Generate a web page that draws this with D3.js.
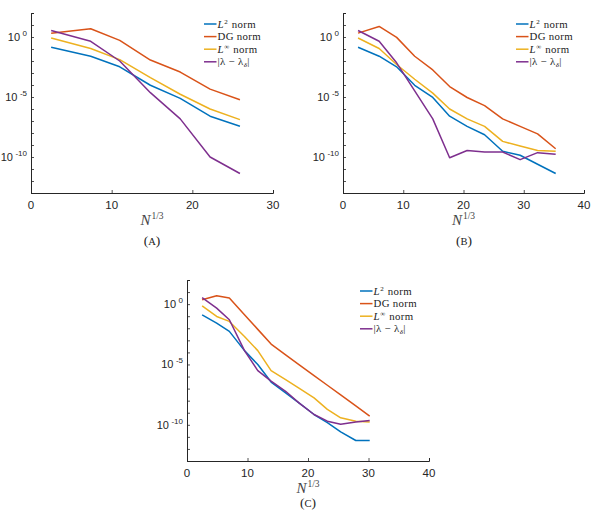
<!DOCTYPE html>
<html><head><meta charset="utf-8">
<script src="https://cdn.jsdelivr.net/npm/d3@7"></script>
<style>body{margin:0;background:#fff}svg{display:block}</style>
</head><body><svg id="c" width="591" height="530"></svg>
<script>
// ---------- data ----------
const seriesColors = ["#0072BD", "#D95319", "#EDB120", "#7E2F8E"];
const xTicksA = [0, 10, 20, 30];
const xTicksBC = [0, 10, 20, 30, 40];
const yLabelExps = [0, -5, -10];
const yDomain = [1e-13, 1e2];
const captions = ["A", "B", "C"];

const xA = [2.5, 7.4, 11.0, 14.8, 18.5, 22.2, 25.9];
const l2A   = [1.4e-1, 2.5e-2, 3.3e-3, 9.5e-5, 7.6e-6, 2.5e-7, 3.6e-8];
const dgA   = [2.1, 4.9, 5.2e-1, 1.2e-2, 1.2e-3, 4.5e-5, 5.9e-6];
const linfA = [8.3e-1, 1.1e-1, 1.3e-2, 4.1e-4, 1.7e-5, 1.0e-6, 1.3e-7];
const lamA  = [3.5, 4.4e-1, 1.0e-2, 2.3e-5, 1.5e-7, 1.0e-10, 4.2e-12];

const xB = [2.5, 6.0, 8.9, 11.9, 14.9, 17.7, 20.6, 23.5, 26.5, 29.4, 32.3, 35.3];
const l2B   = [1.4e-1, 2.5e-2, 3.3e-3, 9.5e-5, 9.1e-6, 2.5e-7, 3.6e-8, 7.1e-9, 3.0e-10, 1.4e-10, 2.5e-11, 4.2e-12];
const dgB   = [2.1, 7.6, 9.3e-1, 2.5e-2, 1.8e-3, 7.4e-5, 9.1e-6, 1.9e-6, 1.5e-7, 3.6e-8, 8.5e-9, 4.9e-10];
const linfB = [8.3e-1, 1.1e-1, 5.1e-3, 3.0e-4, 2.1e-5, 1.0e-6, 1.5e-7, 3.6e-8, 2.0e-9, 8.1e-10, 3.5e-10, 3.0e-10];
const lamB  = [3.5, 4.4e-1, 7.1e-3, 3.2e-5, 1.5e-7, 8.7e-11, 3.5e-10, 2.6e-10, 2.6e-10, 6.0e-11, 2.3e-10, 1.7e-10];

const xC = [2.5, 4.9, 7.0, 9.5, 11.7, 13.9, 16.3, 18.5, 21.0, 23.2, 25.4, 27.9, 30.2];
const l2C   = [1.3e-1, 2.7e-2, 5.5e-3, 1.4e-4, 9.8e-6, 3.5e-7, 4.4e-8, 6.6e-9, 7.1e-10, 1.5e-10, 2.6e-11, 5.0e-12, 5.0e-12];
const dgC   = [2.3, 4.9, 3.2, 1.3e-1, 8.1e-3, 4.9e-4, 6.2e-5, 9.8e-6, 1.2e-6, 1.9e-7, 3.0e-8, 3.7e-9, 5.2e-10];
const linfC = [7.2e-1, 9.5e-2, 3.7e-2, 2.1e-3, 1.4e-4, 3.1e-6, 5.6e-7, 1.1e-7, 1.7e-8, 1.9e-9, 3.8e-10, 2.0e-10, 1.7e-10];
const lamC  = [3.5, 4.7e-1, 5.1e-2, 1.4e-4, 3.1e-6, 4.1e-7, 6.0e-8, 6.6e-9, 7.1e-10, 2.0e-10, 1.1e-10, 1.7e-10, 2.3e-10];

// ---------- layout ----------
const panels = [
  {x: xA, ys: [l2A, dgA, linfA, lamA], xMax: 30, ticks: xTicksA, left: 31, top: 13, w: 242, h: 180, capX: 152, capY: 245},
  {x: xB, ys: [l2B, dgB, linfB, lamB], xMax: 40, ticks: xTicksBC, left: 343, top: 13, w: 241, h: 180, capX: 464, capY: 245},
  {x: xC, ys: [l2C, dgC, linfC, lamC], xMax: 40, ticks: xTicksBC, left: 187, top: 280, w: 242, h: 181, capX: 308, capY: 507}
];

const svg = d3.select("#c");
const axisColor = "#262626";
const sansFont = "'Liberation Sans', Arial, sans-serif";
const serifFont = "'Liberation Serif', 'Times New Roman', serif";

panels.forEach((p, pi) => {
  const g = svg.append("g").attr("transform", `translate(${p.left},${p.top})`);
  const x = d3.scaleLinear().domain([0, p.xMax]).range([0, p.w]);
  const y = d3.scaleLog().domain(yDomain).range([p.h, 0]);

  // axes
  const decades = d3.range(-13, 3).map(e => Math.pow(10, e));
  const gy = g.append("g").call(d3.axisLeft(y).tickValues(decades).tickSize(-3).tickFormat(""));
  const gx = g.append("g").attr("transform", `translate(0,${p.h})`)
    .call(d3.axisBottom(x).tickValues(p.ticks).tickSize(-3).tickFormat(""));
  [gx, gy].forEach(a => {
    a.selectAll("path").attr("stroke", axisColor).attr("stroke-width", 1);
    a.selectAll("line").attr("stroke", axisColor).attr("stroke-width", 0.8);
  });

  // y tick labels
  yLabelExps.forEach(e => {
    const t = g.append("text")
      .attr("x", -4).attr("y", y(Math.pow(10, e)) + 4)
      .attr("text-anchor", "end")
      .attr("font-family", sansFont).attr("font-size", 11).attr("fill", axisColor);
    t.append("tspan").text("10");
    t.append("tspan").attr("dx", 2.5).attr("dy", -5).attr("font-size", 8).text(String(e));
  });

  // x tick labels
  p.ticks.forEach(v => {
    g.append("text").attr("x", x(v)).attr("y", p.h + 16)
      .attr("text-anchor", "middle")
      .attr("font-family", sansFont).attr("font-size", 11.5).attr("fill", axisColor)
      .text(v);
  });

  // x axis label N^{1/3}
  const xl = g.append("text").attr("x", p.w / 2).attr("y", p.h + 32)
    .attr("text-anchor", "middle")
    .attr("font-family", serifFont).attr("font-size", 15).attr("fill", "#444");
  xl.append("tspan").attr("font-style", "italic").text("N");
  xl.append("tspan").attr("dx", 1).attr("dy", -6).attr("font-size", 9.5).text("1/3");

  // lines
  const line = d3.line().x(d => x(d[0])).y(d => y(d[1]));
  p.ys.forEach((vals, si) => {
    g.append("path")
      .datum(p.x.map((xv, i) => [xv, vals[i]]))
      .attr("fill", "none").attr("stroke", seriesColors[si])
      .attr("stroke-width", 1.5).attr("stroke-linejoin", "round")
      .attr("d", line);
  });

  // legend
  const lx = 173, ly0 = 11, dyRow = 12.6;
  const lg = g.append("g").attr("font-family", serifFont).attr("font-size", 10.8)
    .attr("letter-spacing", 0.35).attr("fill", "#222");
  seriesColors.forEach((c, si) => {
    const yy = ly0 + si * dyRow;
    lg.append("line").attr("x1", lx).attr("x2", lx + 12.5).attr("y1", yy).attr("y2", yy)
      .attr("stroke", c).attr("stroke-width", 1.5);
    const t = lg.append("text").attr("x", lx + 13.5).attr("y", yy + 3.6);
    if (si === 0 || si === 2) {
      t.append("tspan").attr("font-style", "italic").text("L");
      t.append("tspan").attr("dy", -4).attr("dx", 0.5).attr("font-size", 7).text(si === 0 ? "2" : "∞");
      t.append("tspan").attr("dy", 4).attr("dx", 3.5).text("norm");
    } else if (si === 1) {
      t.text("DG norm");
    } else {
      t.append("tspan").text("|λ");
      t.append("tspan").attr("dx", 3).text("−");
      t.append("tspan").attr("dx", 3).text("λ");
      t.append("tspan").attr("dy", 2).attr("font-size", 7).attr("font-style", "italic").text("δ");
      t.append("tspan").attr("dy", -2).text("|");
    }
  });

  // caption
  const cap = svg.append("text").attr("x", p.capX).attr("y", p.capY)
    .attr("text-anchor", "middle").attr("font-family", serifFont)
    .attr("font-size", 13.5).attr("fill", "#222");
  cap.append("tspan").text("(");
  cap.append("tspan").attr("font-size", 10.5).text(captions[pi]);
  cap.append("tspan").text(")");
});
</script>
</body></html>
